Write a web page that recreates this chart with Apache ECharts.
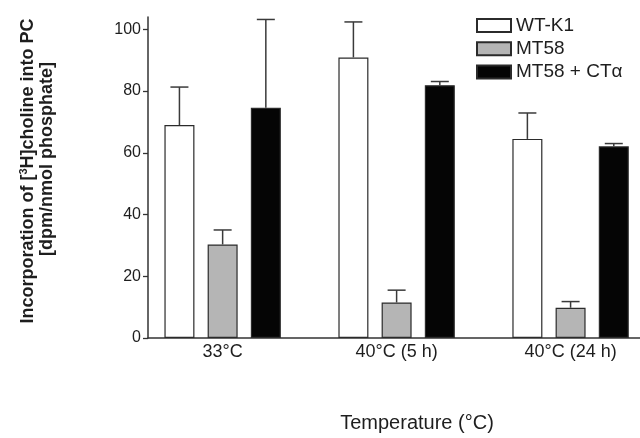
<!DOCTYPE html>
<html><head><meta charset="utf-8">
<script src="https://cdn.jsdelivr.net/npm/echarts@6/dist/echarts.min.js"></script>
<style>html,body{margin:0;padding:0;background:#fff}#c{width:640px;height:438px}</style>
</head><body><div id="c"></div>
<script>
// ---- data ----
const categories = ['33°C', '40°C (5 h)', '40°C (24 h)'];
const seriesNames = ['WT-K1', 'MT58', 'MT58 + CTα'];
const wtK1 = [69.0, 90.9, 64.5];
const mt58 = [30.3, 11.5, 9.8];
const mt58CT = [74.6, 81.9, 62.1];
const wtK1Sd = [12.3, 11.5, 8.4];
const mt58Sd = [4.7, 4.0, 2.0];
const mt58CTSd = [28.6, 1.2, 0.9];
const yTicks = [0, 20, 40, 60, 80, 100];
const xTitle = 'Temperature (°C)';
const yTitle1 = 'Incorporation of [{sup|3}H]choline into PC';
const yTitle2 = '[dpm/nmol phosphate]';

// ---- styling ----
const FONT = '"Liberation Sans", Arial, Helvetica, sans-serif';
const colors = ['#ffffff', '#b5b5b5', '#050505'];
const BAR_W = 30, GAP = 0.44;
const STEP = BAR_W * (1 + GAP);
const values = [wtK1, mt58, mt58CT];
const sds = [wtK1Sd, mt58Sd, mt58CTSd];

const barSeries = seriesNames.map((n, s) => ({
  name: n, type: 'bar', barWidth: BAR_W, barGap: (GAP * 100) + '%',
  data: values[s].map((v, i) => [i, v]),
  itemStyle: { color: colors[s], borderColor: '#2b2b2b', borderWidth: 1.2 },
  emphasis: { disabled: true }, z: 2
}));

const errData = [];
values.forEach((arr, s) => arr.forEach((v, i) => errData.push([i, v, sds[s][i], s])));

const chart = echarts.init(document.getElementById('c'), null, { renderer: 'canvas' });
chart.setOption({
  animation: false,
  backgroundColor: '#fff',
  textStyle: { fontFamily: FONT },
  grid: { left: 148, right: 0, top: 17, bottom: 96, containLabel: false },
  legend: {
    orient: 'vertical', left: 471, top: 10,
    itemWidth: 34, itemHeight: 13, itemGap: 2.3,
    icon: 'rect', data: seriesNames,
    textStyle: { fontSize: 19, color: '#1e1e1e', lineHeight: 21, fontFamily: FONT },
    selectedMode: false
  },
  xAxis: {
    type: 'value', min: -0.429, max: 2.399,
    splitLine: { show: false },
    axisLine: { show: true, onZero: false, lineStyle: { color: '#333', width: 1.5 } },
    axisTick: { show: false },
    axisLabel: {
      customValues: [0, 1, 2],
      formatter: v => categories[Math.round(v)],
      fontSize: 18, color: '#1e1e1e', margin: 5, fontFamily: FONT
    },
    name: xTitle, nameLocation: 'middle', nameGap: 75,
    nameTextStyle: { fontSize: 20, color: '#1e1e1e', padding: [0, 0, 0, 46], fontFamily: FONT }
  },
  yAxis: {
    type: 'value', min: 0, max: 104,
    splitLine: { show: false },
    axisLine: { show: true, onZero: false, lineStyle: { color: '#333', width: 1.5 } },
    axisTick: { show: true, length: 5, customValues: yTicks, lineStyle: { color: '#333', width: 1.3 } },
    axisLabel: { customValues: yTicks, fontSize: 16, color: '#1e1e1e', margin: 7, fontFamily: FONT }
  },
  graphic: [
    { type: 'text', x: 28, y: 171, rotation: Math.PI / 2,
      style: { text: yTitle1, font: 'bold 18px ' + FONT, fill: '#1e1e1e', align: 'center', verticalAlign: 'middle',
        rich: { sup: { fontSize: 11, fontWeight: 'bold', fontFamily: FONT, fill: '#1e1e1e', verticalAlign: 'top', padding: [0, 0, 8, 0] } } } },
    { type: 'text', x: 47, y: 159, rotation: Math.PI / 2,
      style: { text: yTitle2, font: 'bold 18px ' + FONT, fill: '#1e1e1e', align: 'center', verticalAlign: 'middle' } }
  ],
  series: barSeries.concat([{
    type: 'custom', name: 'err', z: 3,
    encode: { x: 0, y: 1 },
    data: errData,
    renderItem: function (params, api) {
      const x = api.value(0), v = api.value(1), sd = api.value(2), s = api.value(3);
      const base = api.coord([x, v]);
      const top = api.coord([x, v + sd]);
      const cx = base[0] + (s - 1) * STEP;
      const st = { stroke: '#3a3a3a', lineWidth: 1.5 };
      return { type: 'group', children: [
        { type: 'line', shape: { x1: cx, y1: base[1], x2: cx, y2: top[1] }, style: st },
        { type: 'line', shape: { x1: cx - 9, y1: top[1], x2: cx + 9, y2: top[1] }, style: st }
      ] };
    }
  }])
});
</script>
</body></html>
